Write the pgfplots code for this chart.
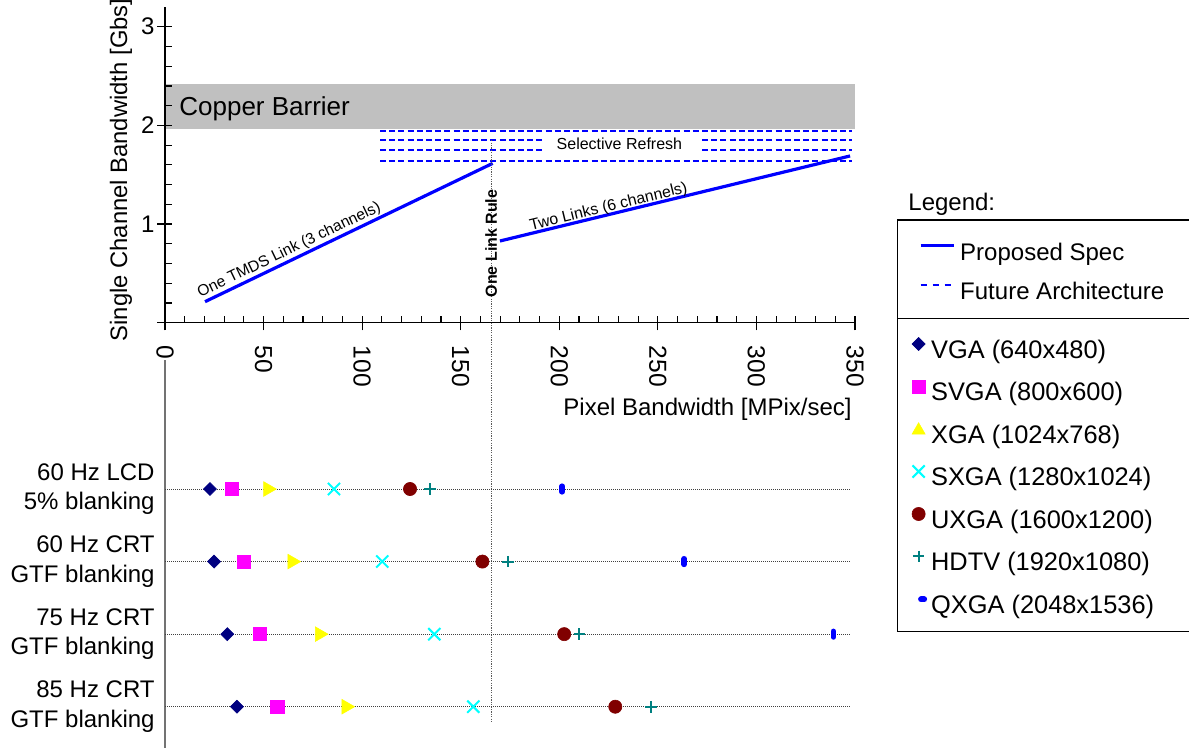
\documentclass[border=0pt]{standalone}
\usepackage{fontspec}
\setmainfont{Liberation Sans}
\usepackage{pgfplots}
\pgfplotsset{compat=1.18}
\usetikzlibrary{plotmarks}
\definecolor{bandgray}{RGB}{192,192,192}
\definecolor{vgacol}{RGB}{0,0,128}
\definecolor{svgacol}{RGB}{255,0,255}
\definecolor{xgacol}{RGB}{255,255,0}
\definecolor{sxgacol}{RGB}{0,255,255}
\definecolor{uxgacol}{RGB}{128,0,0}
\definecolor{hdtvcol}{RGB}{0,128,128}
\definecolor{qxgacol}{RGB}{0,0,255}
\definecolor{linkblue}{RGB}{0,0,255}
\definecolor{dotgray}{RGB}{90,90,90}
\begin{document}
\begin{tikzpicture}
\path[use as bounding box] (0pt,0pt) rectangle (594.5pt,374.5pt);

% ---------------- top axis ----------------
\begin{axis}[
  at={(82.5pt,213.15pt)}, anchor=south west,
  scale only axis, width=345pt, height=157.85pt,
  xmin=0, xmax=350, ymin=0, ymax=3.2,
  axis x line*=bottom, axis y line*=left,
  axis line style={black, line width=0.65pt},
  axis on top, clip=false,
  /pgf/number format/assume math mode=true,
  tick align=inside,
  major tick length=3.5pt, minor tick length=3.5pt,
  tick style={black, line width=0.6pt},
  xtick={0,50,...,350}, xticklabels={,,,,,,,},
  minor x tick num=4,
  ytick={0,1,2,3}, yticklabels={,,,},
  minor y tick num=4,
  extra x ticks={0,50,100,150,200,250,300,350},
  extra x tick labels={0,50,100,150,200,250,300,350},
  extra y ticks={0,1,2,3},
  extra y tick labels={,1,2,3},
  extra tick style={tick align=outside, major tick length=3.8pt},
  xticklabel style={rotate=-90, anchor=west, inner sep=0pt, font=\fontsize{12.3}{14}\selectfont},
  yticklabel style={anchor=east, inner sep=0pt, font=\fontsize{12}{14}\selectfont},
  xticklabel shift=7.65pt,
  yticklabel shift=1.3pt,
  legend style={at={(axis description cs:1.0928,0.275)}, anchor=north west,
    draw=none, fill=none, inner sep=0pt, outer sep=0pt,
    row sep=5pt, column sep=2.5pt,
    font=\fontsize{12}{14}\selectfont,
    nodes={inner sep=0pt, text height=9pt, text depth=2.5pt},
    cells={anchor=base west}},
  legend cell align=left,
  legend image code/.code={\path[draw=none, fill=none] (0pt,-2.5pt) rectangle (16.5pt,9pt);
    \draw[#1] (0pt,4.25pt) -- (16.5pt,4.25pt);},
]
% copper barrier band
\addplot[fill=bandgray, draw=none, forget plot] coordinates {(0,1.963) (350,1.963) (350,2.416) (0,2.416)} -- cycle;
% future architecture (selective refresh) dashed lines
\addplot[linkblue, line width=1pt, dash pattern=on 3pt off 1.6pt, forget plot] coordinates {(109.1,1.946) (348.5,1.946)};
\addplot[linkblue, line width=1pt, dash pattern=on 3pt off 1.6pt, forget plot] coordinates {(109.1,1.849) (191.2,1.849)};
\addplot[linkblue, line width=1pt, dash pattern=on 3pt off 1.6pt, forget plot] coordinates {(272.4,1.849) (348.5,1.849)};
\addplot[linkblue, line width=1pt, dash pattern=on 3pt off 1.6pt, forget plot] coordinates {(109.1,1.750) (191.2,1.750)};
\addplot[linkblue, line width=1pt, dash pattern=on 3pt off 1.6pt, forget plot] coordinates {(272.4,1.750) (348.5,1.750)};
\addplot[linkblue, line width=1pt, dash pattern=on 3pt off 1.6pt, forget plot] coordinates {(109.1,1.642) (348.5,1.642)};
% proposed spec
\addplot[linkblue, line width=1.6pt, forget plot] coordinates {(20.3,0.213) (166.2,1.615)};
\addplot[linkblue, line width=1.6pt, forget plot] coordinates {(169.9,0.828) (347.5,1.690)};
% one link rule
\addplot[dotgray, line width=0.6pt, dash pattern=on 0.6pt off 0.6pt, forget plot] coordinates {(165.7,1.849) (165.7,-4.057)};

\node[anchor=base west, inner sep=0pt, font=\fontsize{13}{15}\selectfont] at (axis cs:7.1,2.105) {Copper Barrier};
\node[anchor=base, inner sep=0pt, font=\fontsize{8}{9}\selectfont] at (axis cs:230.5,1.757) {Selective Refresh};
\node[anchor=base, inner sep=0pt, rotate=25.7, font=\fontsize{7.8}{9}\selectfont] at (axis cs:63.9,0.696) {One TMDS Link (3 channels)};
\node[anchor=base, inner sep=0pt, rotate=13.65, font=\fontsize{7.9}{9}\selectfont] at (axis cs:225.5,1.131) {Two Links (6 channels)};
\node[anchor=center, inner sep=0pt, rotate=90, font=\fontsize{8}{9}\selectfont\bfseries] at (axis cs:165.4,0.803) {One Link Rule};

\addlegendimage{linkblue, line width=1.6pt}
\addlegendentry{Proposed Spec}
\addlegendimage{linkblue, line width=1pt, dash pattern=on 3pt off 3pt}
\addlegendentry{Future Architecture}
\end{axis}

% ---------------- bottom axis ----------------
\begin{axis}[
  at={(82.5pt,0.5pt)}, anchor=south west,
  scale only axis, width=345pt, height=194pt,
  xmin=0, xmax=350, ymin=0.431, ymax=5.778,
  hide x axis,
  axis y line*=left,
  axis line style={black!55, line width=0.7pt},
  clip=false,
  ytick={1,2,3,4},
  yticklabels={{85 Hz CRT\\GTF blanking},{75 Hz CRT\\GTF blanking},{60 Hz CRT\\GTF blanking},{60 Hz LCD\\5\% blanking}},
  yticklabel style={align=right, anchor=east, inner sep=0pt, font=\fontsize{12}{14.7}\selectfont},
  yticklabel shift=5pt,
  major tick length=0pt, ytick style={draw=none},
  legend style={at={(axis description cs:1.0806,1.0678)}, anchor=north west,
    draw=none, fill=none, inner sep=0pt, outer sep=0pt,
    row sep=6.5pt, column sep=2.5pt,
    font=\fontsize{12.7}{14}\selectfont,
    nodes={inner sep=0pt, text height=9pt, text depth=2.5pt},
    cells={anchor=base west}},
  legend cell align=left,
  legend image code/.code={\path[draw=none, fill=none] (-4pt,-2.5pt) rectangle (3.75pt,9pt);
    \draw[#1] plot coordinates {(0pt,3.85pt)};},
]
% row guide lines
\addplot[black!75, line width=0.5pt, dash pattern=on 0.5pt off 0.5pt, forget plot] coordinates {(0,4) (347,4)};
\addplot[black!75, line width=0.5pt, dash pattern=on 0.5pt off 0.5pt, forget plot] coordinates {(0,3) (347,3)};
\addplot[black!75, line width=0.5pt, dash pattern=on 0.5pt off 0.5pt, forget plot] coordinates {(0,2) (347,2)};
\addplot[black!75, line width=0.5pt, dash pattern=on 0.5pt off 0.5pt, forget plot] coordinates {(0,1) (347,1)};

% VGA
\addplot[only marks, mark=square*, mark size=2.3pt, mark options={rotate=45, fill=vgacol, draw=vgacol, line width=0.3pt}]
  coordinates {(22.8,4) (24.9,3) (31.6,2) (36.5,1)};
\addlegendentry{VGA (640x480)}
% SVGA
\addplot[only marks, mark=square*, mark size=3.3pt, mark options={fill=svgacol, draw=svgacol, line width=0.3pt}]
  coordinates {(34.0,4) (40.1,3) (48.2,2) (57.0,1)};
\addlegendentry{SVGA (800x600)}
% XGA
\addplot[only marks, mark=triangle*, mark size=4.2pt, mark options={rotate=-90, fill=xgacol, draw=xgacol, line width=0.3pt},
  legend image code/.code={\path[draw=none, fill=none] (-4pt,-2.5pt) rectangle (3.75pt,9pt);
    \draw[mark=triangle*, mark size=3.75pt, mark options={fill=xgacol, draw=xgacol, line width=0.3pt}] plot coordinates {(0pt,3.2pt)};}]
  coordinates {(52.2,4) (64.5,3) (78.4,2) (91.9,1)};
\addlegendentry{XGA (1024x768)}
% SXGA
\addplot[only marks, mark=x, mark size=4.3pt, mark options={draw=sxgacol, line width=1pt}]
  coordinates {(85.7,4) (110.2,3) (136.6,2) (156.4,1)};
\addlegendentry{SXGA (1280x1024)}
% UXGA
\addplot[only marks, mark=*, mark size=3.3pt, mark options={fill=uxgacol, draw=uxgacol, line width=0.3pt}]
  coordinates {(124.3,4) (161.0,3) (202.5,2) (228.4,1)};
\addlegendentry{UXGA (1600x1200)}
% HDTV
\addplot[only marks, mark=+, mark size=2.9pt, mark options={draw=hdtvcol, line width=1pt}]
  coordinates {(134.4,4) (174.1,3) (210.2,2) (246.5,1)};
\addlegendentry{HDTV (1920x1080)}
% QXGA
\addplot[only marks, mark=|, mark size=1.4pt, mark options={draw=qxgacol, line width=2.8pt, line cap=round},
  legend image code/.code={\path[draw=none, fill=none] (-4pt,-2.5pt) rectangle (3.75pt,9pt);
    \draw[mark=-, mark size=0.75pt, mark options={draw=qxgacol, line width=3pt, line cap=round}] plot coordinates {(2pt,3.6pt)};}]
  coordinates {(201.5,4) (263.4,3) (339.0,2)};
\addlegendentry{QXGA (2048x1536)}
\end{axis}

% axis titles
\node[rotate=90, inner sep=0pt, font=\fontsize{11.9}{13}\selectfont] at (60.5pt,289.5pt) {Single Channel Bandwidth [Gbs]};
\node[anchor=east, inner sep=0pt, font=\fontsize{12}{14}\selectfont] at (426pt,170pt) {Pixel Bandwidth [MPix/sec]};

% legend frame
\node[anchor=base west, inner sep=0pt, font=\fontsize{12}{14}\selectfont] at (454pt,269.15pt) {Legend:};
\draw[black, line width=0.65pt] (448.7pt,264.5pt) rectangle (600pt,58.65pt);
\draw[black, line width=0.65pt] (448.7pt,215.35pt) -- (600pt,215.35pt);
\end{tikzpicture}
\end{document}
